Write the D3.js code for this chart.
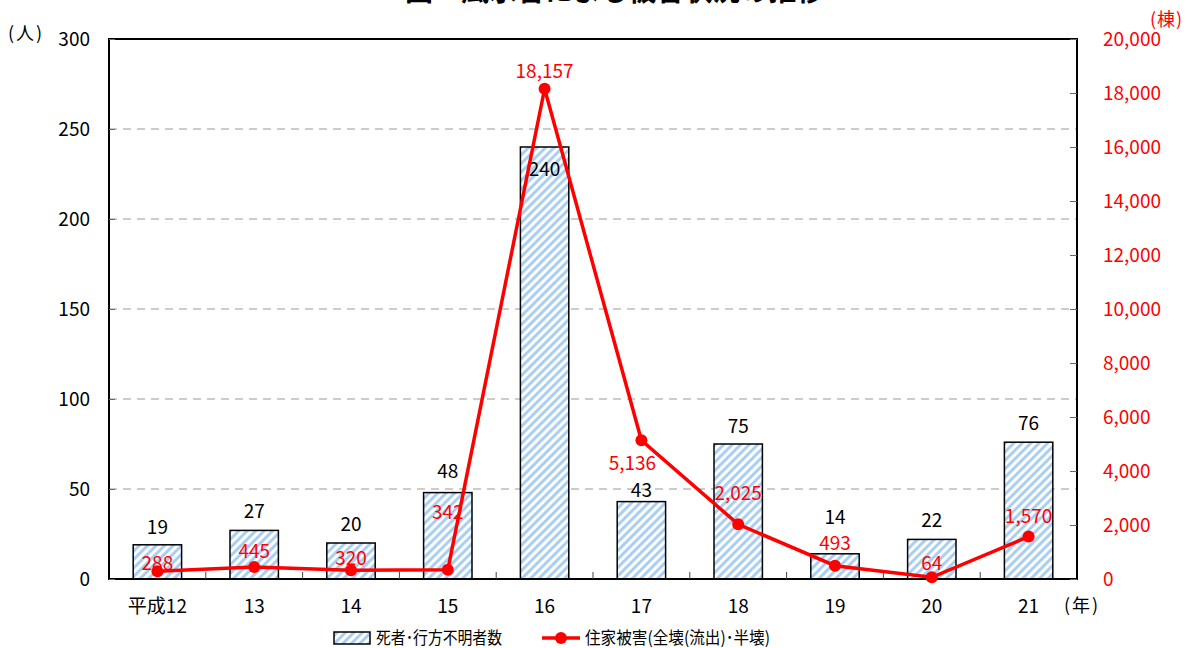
<!DOCTYPE html>
<html>
<head>
<meta charset="utf-8">
<script src="https://cdn.jsdelivr.net/npm/d3@7"></script>
<style>
  body { margin: 0; background: #fff; }
  text { font-family: "Noto Sans CJK JP", "Noto Sans", sans-serif; }
</style>
</head>
<body>
<div id="chart"></div>
<script>
// data
var years = ["平成12", "13", "14", "15", "16", "17", "18", "19", "20", "21"];
var deaths = [19, 27, 20, 48, 240, 43, 75, 14, 22, 76];
var houses = [288, 445, 320, 342, 18157, 5136, 2025, 493, 64, 1570];
var leftTicks = [0, 50, 100, 150, 200, 250, 300];
var rightTicks = [0, 2000, 4000, 6000, 8000, 10000, 12000, 14000, 16000, 18000, 20000];

// label nudges (dx, dy from the mark) so they dodge each other like the original
var deathLabelOffset = [-11, -12, -12, -15, 29, -5, -11, -30, -12, -12];
var houseLabelOffset = [[0, -1], [0, -9], [0, -5], [0, -51], [0, -11], [-9, 30], [0, -24], [0, -16], [0, -7], [0, -14]];

var svgWidth = 1185, svgHeight = 648;
var margin = { top: 39, right: 108, bottom: 69, left: 109 };
var width = svgWidth - margin.left - margin.right;
var height = svgHeight - margin.top - margin.bottom;

var svg = d3.select("#chart").append("svg")
  .attr("width", svgWidth)
  .attr("height", svgHeight);

var defs = svg.append("defs");
var pat = defs.append("pattern")
  .attr("id", "hatch")
  .attr("patternUnits", "userSpaceOnUse")
  .attr("width", 6).attr("height", 6)
  .attr("patternTransform", "rotate(-45)");
pat.append("rect").attr("width", 6).attr("height", 6).attr("fill", "#fff");
pat.append("rect").attr("width", 6).attr("height", 3).attr("fill", "#a9cff2");

// title, mostly cut off at the top
svg.append("text")
  .attr("x", 405).attr("y", 1)
  .attr("font-size", 28)
  .attr("font-weight", "bold")
  .attr("fill", "#000")
  .text("図　風水害による被害状況の推移");

var g = svg.append("g")
  .attr("transform", `translate(${margin.left}, ${margin.top})`);

var x = d3.scaleBand().domain(years).range([0, width]);
var yL = d3.scaleLinear().domain([0, 300]).range([height, 0]);
var yR = d3.scaleLinear().domain([0, 20000]).range([height, 0]);

// gridlines
g.append("g").selectAll("line")
  .data(leftTicks.filter(d => d > 0 && d < 300))
  .enter().append("line")
  .attr("x1", 0).attr("x2", width)
  .attr("y1", d => yL(d)).attr("y2", d => yL(d))
  .attr("stroke", "#999")
  .attr("stroke-width", 1)
  .attr("stroke-dasharray", "8,6");

// bars
g.append("g").selectAll("rect")
  .data(deaths)
  .enter().append("rect")
  .attr("x", (d, i) => x(years[i]) + x.bandwidth() / 4)
  .attr("width", x.bandwidth() / 2)
  .attr("y", d => yL(d))
  .attr("height", d => height - yL(d))
  .attr("fill", "url(#hatch)")
  .attr("stroke", "#000")
  .attr("stroke-width", 1.5);

g.append("g").selectAll("text")
  .data(deaths)
  .enter().append("text")
  .attr("x", (d, i) => x(years[i]) + x.bandwidth() / 2)
  .attr("y", (d, i) => yL(d) + deathLabelOffset[i])
  .attr("text-anchor", "middle")
  .attr("font-size", 19)
  .attr("fill", "#000")
  .text(d => d);

// frame
g.append("rect")
  .attr("width", width).attr("height", height)
  .attr("fill", "none")
  .attr("stroke", "#000")
  .attr("stroke-width", 2);

// axes (ticks drawn inward)
var leftAxis = d3.axisLeft(yL).tickValues(leftTicks).tickSizeInner(-6).tickSizeOuter(0).tickPadding(19);
var la = g.append("g").call(leftAxis);
la.select(".domain").remove();
la.selectAll("line").attr("stroke", "#666");
la.selectAll("text").attr("font-size", 19).attr("fill", "#000").attr("font-family", "'Noto Sans CJK JP', sans-serif");

var rightAxis = d3.axisRight(yR).tickValues(rightTicks).tickSizeInner(-7).tickSizeOuter(0).tickPadding(26)
  .tickFormat(d3.format(","));
var ra = g.append("g").attr("transform", `translate(${width},0)`).call(rightAxis);
ra.select(".domain").remove();
ra.selectAll("line").attr("stroke", "#666");
ra.selectAll("text").attr("font-size", 19).attr("fill", "#ff0000").attr("font-family", "'Noto Sans CJK JP', sans-serif");

// category boundary ticks
g.append("g").selectAll("line")
  .data(years.slice(1))
  .enter().append("line")
  .attr("x1", d => x(d)).attr("x2", d => x(d))
  .attr("y1", height).attr("y2", height - 7)
  .attr("stroke", "#444");

g.append("g").selectAll("text")
  .data(years)
  .enter().append("text")
  .attr("x", d => x(d) + x.bandwidth() / 2)
  .attr("y", height + 34)
  .attr("text-anchor", "middle")
  .attr("font-size", 19)
  .attr("fill", "#000")
  .text(d => d);

// red line
var line = d3.line()
  .x((d, i) => x(years[i]) + x.bandwidth() / 2)
  .y(d => yR(d));

g.append("path")
  .datum(houses)
  .attr("d", line)
  .attr("fill", "none")
  .attr("stroke", "#ff0000")
  .attr("stroke-width", 3.5);

g.append("g").selectAll("circle")
  .data(houses)
  .enter().append("circle")
  .attr("cx", (d, i) => x(years[i]) + x.bandwidth() / 2)
  .attr("cy", d => yR(d))
  .attr("r", 6)
  .attr("fill", "#ff0000");

g.append("g").selectAll("text")
  .data(houses)
  .enter().append("text")
  .attr("x", (d, i) => x(years[i]) + x.bandwidth() / 2 + houseLabelOffset[i][0])
  .attr("y", (d, i) => yR(d) + houseLabelOffset[i][1])
  .attr("text-anchor", "middle")
  .attr("font-size", 19)
  .attr("fill", "#ff0000")
  .text(d => d3.format(",")(d));

// unit labels
svg.append("text").attr("x", 8).attr("y", 40).attr("font-size", 18).attr("letter-spacing", 2).attr("fill", "#000").text("(人)");
svg.append("text").attr("x", 1150).attr("y", 26).attr("font-size", 18).attr("letter-spacing", 1).attr("fill", "#ff0000").text("(棟)");
svg.append("text").attr("x", 1064).attr("y", 612).attr("font-size", 18).attr("letter-spacing", 2).attr("fill", "#000").text("(年)");

// legend
var lg = svg.append("g");
lg.append("rect")
  .attr("x", 334).attr("y", 632).attr("width", 36).attr("height", 12)
  .attr("fill", "url(#hatch)").attr("stroke", "#000").attr("stroke-width", 1.5);
lg.append("text").attr("x", 376).attr("y", 644).attr("font-size", 17)
  .attr("textLength", 126).attr("lengthAdjust", "spacingAndGlyphs")
  .attr("fill", "#000").text("死者･行方不明者数");
lg.append("line")
  .attr("x1", 542).attr("x2", 580).attr("y1", 638).attr("y2", 638)
  .attr("stroke", "#ff0000").attr("stroke-width", 3.5);
lg.append("circle").attr("cx", 561).attr("cy", 638).attr("r", 6).attr("fill", "#ff0000");
lg.append("text").attr("x", 585).attr("y", 644).attr("font-size", 17)
  .attr("textLength", 185).attr("lengthAdjust", "spacingAndGlyphs")
  .attr("fill", "#000").text("住家被害(全壊(流出)･半壊)");
</script>
</body>
</html>
